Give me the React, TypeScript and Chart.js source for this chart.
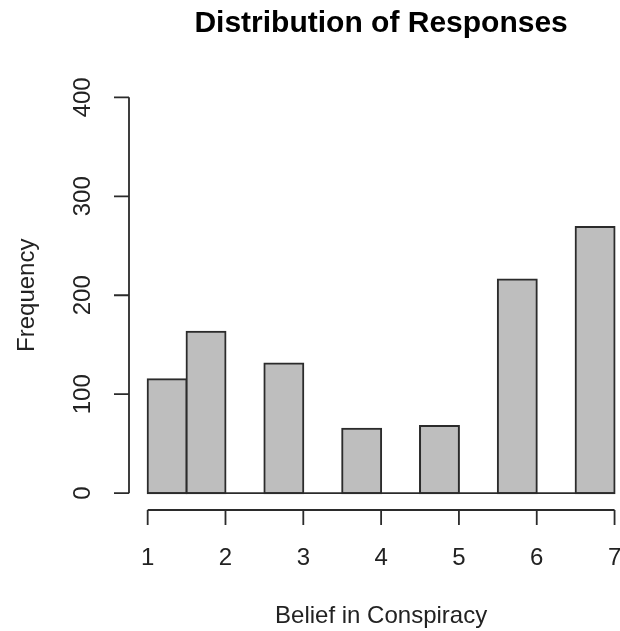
import React, { useEffect, useRef } from "react";
import { Chart, registerables } from "chart.js";

Chart.register(...registerables);

const binCenters = [1.25, 1.75, 2.25, 2.75, 3.25, 3.75, 4.25, 4.75, 5.25, 5.75, 6.25, 6.75];
const frequencies = [115, 163, 0, 131, 0, 65, 0, 68, 0, 216, 0, 269];
const xTicks = [1, 2, 3, 4, 5, 6, 7];
const yTicks = [0, 100, 200, 300, 400];
const titleText = "Distribution of Responses";
const xTitle = "Belief in Conspiracy";
const yTitle = "Frequency";

const FONT = '"Liberation Sans", Arial, Helvetica, sans-serif';
const INK = "#222222";
const LINE = "#2b2b2b";

const rAxesPlugin = {
  id: "rAxes",
  afterDraw(chart: any) {
    const ctx = chart.ctx;
    const xs = chart.scales.x;
    const ys = chart.scales.y;
    const area = chart.chartArea;
    ctx.save();
    ctx.strokeStyle = LINE;
    ctx.lineWidth = 1.8;
    ctx.fillStyle = INK;

    // x axis
    const axY = 510;
    const x0 = xs.getPixelForValue(xTicks[0]);
    const x1 = xs.getPixelForValue(xTicks[xTicks.length - 1]);
    ctx.beginPath();
    ctx.moveTo(x0, axY);
    ctx.lineTo(x1, axY);
    xTicks.forEach((t) => {
      const px = xs.getPixelForValue(t);
      ctx.moveTo(px, axY);
      ctx.lineTo(px, axY + 15);
    });
    ctx.stroke();
    ctx.font = `24px ${FONT}`;
    ctx.textAlign = "center";
    ctx.textBaseline = "alphabetic";
    xTicks.forEach((t) => {
      ctx.fillText(String(t), xs.getPixelForValue(t), 565);
    });

    // y axis
    const axX = 129;
    const yA = ys.getPixelForValue(yTicks[0]);
    const yB = ys.getPixelForValue(yTicks[yTicks.length - 1]);
    ctx.beginPath();
    ctx.moveTo(axX, yA);
    ctx.lineTo(axX, yB);
    yTicks.forEach((t) => {
      const py = ys.getPixelForValue(t);
      ctx.moveTo(axX, py);
      ctx.lineTo(axX - 15, py);
    });
    ctx.stroke();
    yTicks.forEach((t) => {
      const py = ys.getPixelForValue(t);
      ctx.save();
      ctx.translate(90, py);
      ctx.rotate(-Math.PI / 2);
      ctx.textAlign = "center";
      ctx.fillText(String(t), 0, 0);
      ctx.restore();
    });

    // titles
    const centerX = (axX + xs.getPixelForValue(7.24)) / 2;
    ctx.textAlign = "center";
    ctx.font = `bold 30px ${FONT}`;
    ctx.fillStyle = "#000000";
    ctx.fillText(titleText, centerX, 32);
    ctx.font = `24px ${FONT}`;
    ctx.fillStyle = INK;
    ctx.fillText(xTitle, centerX, 623);
    ctx.save();
    ctx.translate(34, (area.top + area.bottom) / 2);
    ctx.rotate(-Math.PI / 2);
    ctx.fillText(yTitle, 0, 0);
    ctx.restore();
    ctx.restore();
  },
};

export default function App() {
  const ref = useRef<HTMLCanvasElement | null>(null);
  useEffect(() => {
    if (!ref.current) return;
    const chart = new Chart(ref.current, {
      type: "bar",
      data: {
        datasets: [
          {
            type: "line",
            data: [
              { x: xTicks[0], y: 0 },
              { x: xTicks[xTicks.length - 1], y: 0 },
            ],
            borderColor: LINE,
            borderWidth: 1.8,
            pointRadius: 0,
            order: 0,
          } as any,
          {
            type: "bar",
            data: binCenters.map((x, i) => ({ x, y: frequencies[i] })),
            backgroundColor: "#BEBEBE",
            borderColor: LINE,
            borderWidth: 2,
            borderSkipped: false,
            categoryPercentage: 1,
            barPercentage: 1,
            inflateAmount: 1,
            order: 1,
          } as any,
        ],
      },
      options: {
        animation: false,
        responsive: false,
        maintainAspectRatio: false,
        layout: { padding: { left: 129, right: 0, top: 81.5, bottom: 122 } },
        plugins: {
          legend: { display: false },
          tooltip: { enabled: false },
          title: { display: false },
        },
        scales: {
          x: { type: "linear", min: 0.76, max: 7.07, offset: false, display: false },
          y: { type: "linear", min: -16, max: 416, display: false },
        },
      },
      plugins: [rAxesPlugin],
    });
    return () => chart.destroy();
  }, []);
  return (
    <div style={{ position: "absolute", left: 0, top: 0, width: 620, height: 631, background: "#ffffff" }}>
      <canvas ref={ref} width={620} height={631} style={{ display: "block" }} />
    </div>
  );
}
